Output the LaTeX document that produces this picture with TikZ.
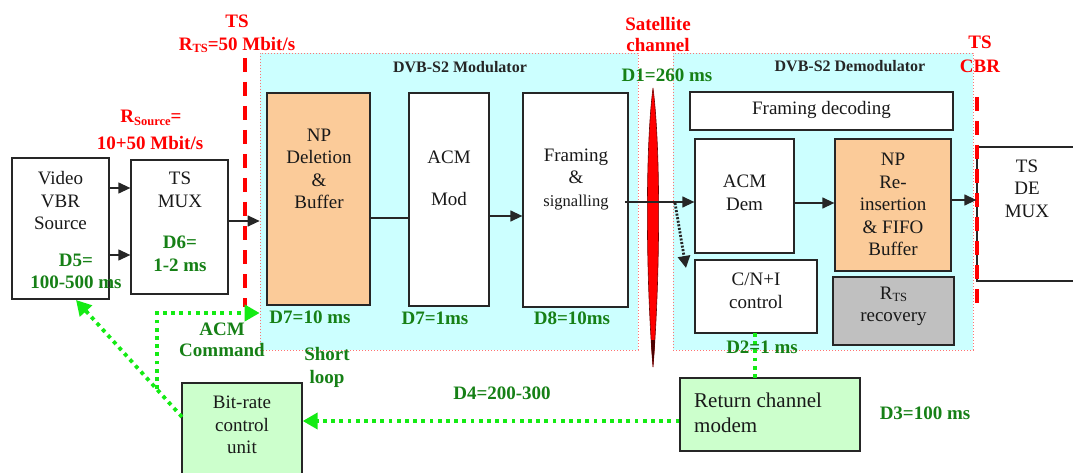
\documentclass[tikz,border=0pt]{standalone}
\usepackage{fontspec}
\setmainfont{Liberation Serif}
\usetikzlibrary{arrows.meta}

\definecolor{cyanbg}{RGB}{204,255,255}
\definecolor{orangebox}{RGB}{251,203,153}
\definecolor{graybox}{RGB}{192,192,192}
\definecolor{greenbox}{RGB}{204,255,204}
\definecolor{dgreen}{RGB}{22,128,22}
\definecolor{lgreen}{RGB}{20,235,20}
\definecolor{tsred}{RGB}{255,0,0}

\newcommand\fsA{\fontsize{19}{22.5}\selectfont}
\newcommand\fsT{\fontsize{16}{19}\selectfont}
\newcommand\fsS{\fontsize{16.5}{20}\selectfont}
\newcommand\fsR{\fontsize{21}{25}\selectfont}
\newcommand\subTS[1]{\raisebox{-2.5pt}{\fontsize{12.5}{13}\selectfont #1}}

\tikzset{
  blk/.style={draw=black!85, line width=1.3pt, fill=white, inner sep=0pt},
  txt/.style={align=center, inner sep=0pt, font=\fsA, text=black!90},
  lbl/.style={align=center, inner sep=0pt, font=\fsA\bfseries, text=dgreen},
  rlbl/.style={align=center, inner sep=0pt, font=\fsA\bfseries, text=tsred},
  arr/.style={-{Triangle[length=12pt,width=11pt]}, line width=1.3pt, draw=black!85},
  plain/.style={line width=1.3pt, draw=black!85},
  gdot/.style={draw=lgreen, line width=3.8pt, dash pattern=on 3.8pt off 4.4pt},
  garr/.style={gdot, -{Triangle[length=15pt,width=16pt]}},
  kdot/.style={draw=black!85, line width=2.8pt, dash pattern=on 2pt off 1.6pt,
    -{Triangle[length=12pt,width=12pt]}},
  region/.style={fill=cyanbg, draw=red!55, line width=0.7pt,
    dash pattern=on 1pt off 2pt, inner sep=0pt},
  tsline/.style={draw=tsred, line width=4pt, dash pattern=on 14pt off 10pt},
}

\begin{document}
\begin{tikzpicture}[x=1pt, y=-1pt]
\useasboundingbox (0,0) rectangle (1073,473);

% modulator and demodulator areas
\node[region, minimum width=378, minimum height=297] (modreg) at (449,201.5) {};
\node[region, minimum width=300, minimum height=297] (demreg) at (823,201.5) {};
\node[font=\fsT\bfseries, text=black!85, inner sep=0pt] (modtitle) at (460,67) {DVB-S2 Modulator};
\node[font=\fsT\bfseries, text=black!85, inner sep=0pt] (demtitle) at (850,66) {DVB-S2 Demodulator};

% transmit side
\node[blk, minimum width=97, minimum height=141] (src) at (60.5,228.5) {};
\node[txt] (srctxt) at (60.5,201) {Video\\VBR\\Source};
\node[lbl] (d5) at (76,271.5) {D5=\\100-500 ms};

\node[blk, minimum width=97, minimum height=134] (mux) at (179.5,227) {};
\node[txt] (muxtxt) at (180,190) {TS\\MUX};
\node[lbl] (d6) at (180,254) {D6=\\1-2 ms};

\node[blk, fill=orangebox, minimum width=103, minimum height=212] (npdel) at (318.5,199) {};
\node[txt] (npdeltxt) at (319,169) {NP\\Deletion\\\&\\Buffer};

\node[blk, minimum width=80, minimum height=213] (acmmod) at (449,199.5) {};
\node[txt] (acmmodtxt) at (449,178.5) {ACM\\[20pt]Mod};

\node[blk, minimum width=105, minimum height=214] (fram) at (575.5,200) {};
\node[txt] (framtxt) at (576,179) {Framing\\\&\\{\fsS signalling}};

% receive side
\node[blk, minimum width=263, minimum height=38] (fdec) at (821.5,111) {};
\node[txt] (fdectxt) at (821.5,110) {Framing decoding};

\node[blk, minimum width=99, minimum height=114] (acmdem) at (744.5,196) {};
\node[txt] (acmdemtxt) at (744.5,193) {ACM\\Dem};

\node[blk, fill=orangebox, minimum width=116, minimum height=132] (npre) at (893,205) {};
\node[txt] (npretxt) at (893,204.5) {NP\\Re-\\insertion\\\& FIFO\\Buffer};

\node[blk, minimum width=108, minimum height=134] (demux) at (1031,214) {};
\node[txt] (demuxtxt) at (1027,188.5) {TS\\DE\\MUX};

\node[blk, minimum width=122, minimum height=73] (cni) at (756,296.5) {};
\node[txt] (cnitxt) at (756,291) {C/N+I\\control};

\node[blk, fill=graybox, minimum width=121, minimum height=68] (rtsrec) at (893.5,311) {};
\node[txt] (rtsrectxt) at (893.5,306.5) {R\subTS{TS}\\recovery};

% return path
\node[blk, fill=greenbox, minimum width=180, minimum height=73] (rcm) at (770,414.5) {};
\node[txt, font=\fsR, align=left, anchor=west] (rcmtxt) at (694,412.5) {Return channel\\modem};

\node[blk, fill=greenbox, minimum width=120, minimum height=100] (bitrate) at (242,433) {};
\node[txt] (bitratetxt) at (242,425) {Bit-rate\\control\\unit};

% TS interface markers
\coordinate (tsLtop) at (245,58);
\coordinate (tsLbot) at (245,307);
\draw[tsline] (tsLtop) -- (tsLbot);
\coordinate (tsRtop) at (977,97);
\coordinate (tsRbot) at (977,313);
\draw[tsline] (tsRtop) -- (tsRbot);

% satellite channel
\filldraw[fill=tsred, draw=red!45!black, line width=0.6pt]
  (653,88) .. controls (661,150) and (660,280) .. (653,367)
  .. controls (646,280) and (645,150) .. (653,88);
\fill[red!30!black] (653,367) .. controls (651.5,350) .. (651,340)
  -- (655,340) .. controls (654.5,350) .. (653,367);

% labels
\node[rlbl] (tslbl) at (237,21) {TS};
\node[rlbl] (rtslbl) at (237,45) {R\subTS{TS}=50 Mbit/s};
\node[rlbl] (rsrclbl) at (151,118) {R\subTS{Source}=};
\node[rlbl] (rsrcval) at (150,143) {10+50 Mbit/s};
\node[rlbl] (satlbl) at (658,24) {Satellite};
\node[rlbl] (chanlbl) at (658,45) {channel};
\node[rlbl] (tsrlbl) at (980,42) {TS};
\node[rlbl] (cbrlbl) at (980,66) {CBR};

\node[lbl] (d1) at (667,75) {D1=260 ms};
\node[lbl] (d7a) at (310,317) {D7=10 ms};
\node[lbl] (d7b) at (435,318) {D7=1ms};
\node[lbl] (d8) at (572,318) {D8=10ms};
\node[lbl] (acmcmd) at (222,340) {ACM\\[-2pt]Command};
\node[lbl] (shortloop) at (327,367.5) {Short\\loop};
\node[lbl] (d4) at (502,393) {D4=200-300};
\node[lbl] (d3) at (925,413) {D3=100 ms};

% forward data path
\coordinate (ya) at (0,188);
\coordinate (yb) at (0,255);
\coordinate (yc) at (0,221);
\coordinate (yd) at (0,218);
\coordinate (ye) at (0,216);
\coordinate (yf) at (0,202);
\coordinate (yg) at (0,203);
\coordinate (yh) at (0,200);
\draw[arr] (src.east |- ya) -- (mux.west |- ya);
\draw[arr] (src.east |- yb) -- (mux.west |- yb);
\draw[arr] (mux.east |- yc) -- (modreg.west |- yc);
\draw[plain] (npdel.east |- yd) -- (acmmod.west |- yd);
\draw[arr] (acmmod.east |- ye) -- (fram.west |- ye);
\coordinate (framout) at (625,202);
\draw[arr] (framout) -- (acmdem.west |- yf);
\draw[arr] (acmdem.east |- yg) -- (npre.west |- yg);
\draw[arr] (npre.east |- yh) -- (demux.west |- yh);

% channel estimate tap
\coordinate (tap) at (675,203);
\coordinate (cnitip) at (686,268);
\draw[kdot] (tap) -- (cnitip);

% control loops
\coordinate (cnidown) at (755,333);
\coordinate (rcmup) at (755,378);
\draw[gdot] (cnidown) -- (rcmup);
\node[lbl] (d2) at (762,347) {D2=1 ms};

\coordinate (yr) at (0,421);
\draw[garr] (rcm.west |- yr) -- (bitrate.east |- yr);

\coordinate (bstart) at (182,417);
\coordinate (srchit) at (76,300);
\draw[garr] (bstart) -- (srchit);

\coordinate (branch) at (157,389);
\coordinate (bend) at (157,313);
\draw[garr] (branch) -- (bend) -- (modreg.west |- bend);
\end{tikzpicture}
\end{document}
